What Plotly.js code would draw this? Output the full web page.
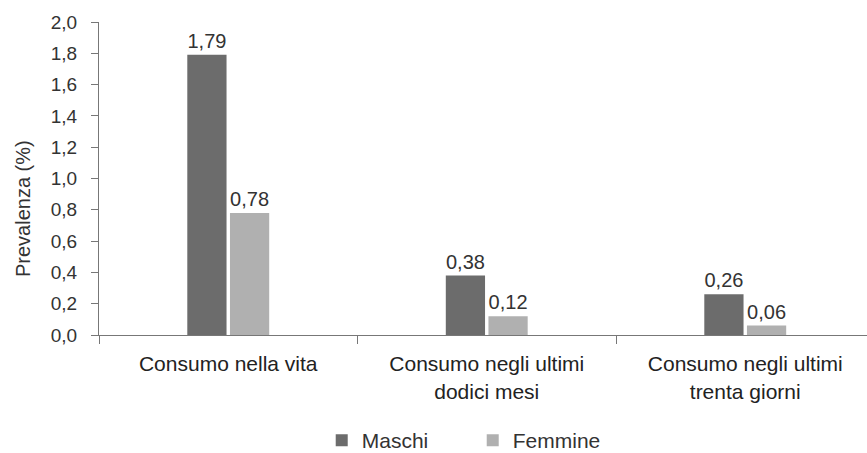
<!DOCTYPE html>
<html>
<head>
<meta charset="utf-8">
<script src="https://cdn.plot.ly/plotly-3.0.1.min.js"></script>
<style>html,body{margin:0;padding:0;background:#fff;}#chart{width:867px;height:453px;}</style>
</head>
<body>
<div id="chart"></div>
<script>
const categories = ["Consumo nella vita", "Consumo negli ultimi<br>dodici mesi", "Consumo negli ultimi<br>trenta giorni"];
const seriesNames = ["Maschi", "Femmine"];
const maschi = [1.79, 0.38, 0.26];
const femmine = [0.78, 0.12, 0.06];
const yTicks = [0, 0.2, 0.4, 0.6, 0.8, 1.0, 1.2, 1.4, 1.6, 1.8, 2.0];
const yTitle = "Prevalenza (%)";

const fam = "Liberation Sans, Arial, sans-serif";
const mk = (name, y, color) => ({
  type: "bar", name: name, x: categories, y: y,
  marker: {color: color, line: {width: 0}},
  texttemplate: "%{y:.2f}", textposition: "outside", cliponaxis: false,
  textfont: {family: fam, size: 20, color: "#333"},
  hoverinfo: "skip"
});
const data = [mk(seriesNames[0], maschi, "#6c6c6c"), mk(seriesNames[1], femmine, "#b0b0b0")];
const layout = {
  width: 867, height: 453,
  margin: {l: 99, r: 0, t: 22, b: 118, autoexpand: false},
  paper_bgcolor: "#fff", plot_bgcolor: "#fff",
  separators: ",.",
  font: {family: fam, size: 19, color: "#333"},
  barmode: "group", bargap: 0.67, bargroupgap: 0.08,
  showlegend: true,
  legend: {orientation: "h", x: 0.29, xanchor: "left", y: -0.337, yanchor: "middle",
           font: {family: fam, size: 21, color: "#333"}, itemwidth: 30, traceorder: "normal",
           entrywidth: 106, entrywidthmode: "pixels"},
  xaxis: {range: [-0.5, 2.471], showline: true, linecolor: "#777", linewidth: 1,
          ticks: "outside", tickson: "boundaries", ticklen: 8, tickcolor: "#777", automargin: false,
          showgrid: false, zeroline: false, fixedrange: true, ticklabelstandoff: 10,
          tickfont: {family: fam, size: 21, color: "#222"}},
  yaxis: {range: [0, 2.0], tickvals: yTicks, tickformat: ".1f", showline: true, linecolor: "#777", linewidth: 1,
          ticks: "outside", ticklen: 7, tickcolor: "#777", showgrid: false, zeroline: false, automargin: false,
          ticklabelstandoff: 10,
          tickfont: {family: fam, size: 19, color: "#333"}},
  annotations: [{
    text: yTitle, xref: "paper", yref: "paper", x: (23 - 99) / 768, y: (335 - 209) / 313,
    xanchor: "center", yanchor: "middle", textangle: -90, showarrow: false,
    font: {family: fam, size: 20, color: "#333"}
  }]
};
Plotly.newPlot("chart", data, layout, {displayModeBar: false, staticPlot: true});
</script>
</body>
</html>
